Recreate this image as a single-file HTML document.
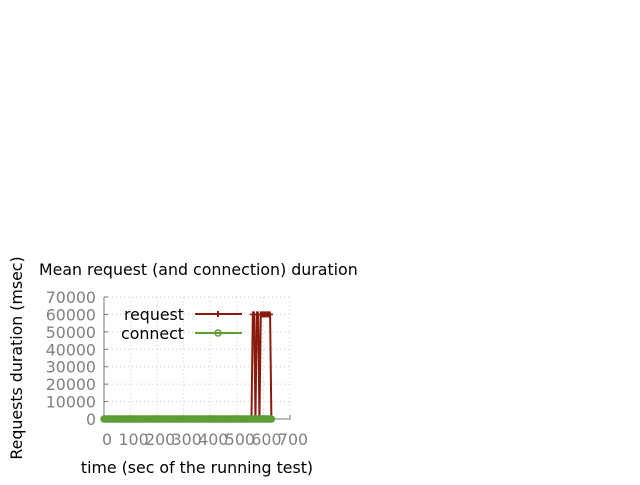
<!DOCTYPE html>
<html><head><meta charset="utf-8"><style>
body{margin:0;background:#fff;width:640px;height:480px;overflow:hidden}
svg text{font-family:"DejaVu Sans","Liberation Sans",sans-serif}
</style></head><body>
<svg id="chart" width="640" height="480" xmlns="http://www.w3.org/2000/svg">
<text x="39" y="275" font-size="15.8" fill="#000">Mean request (and connection) duration</text>
<text transform="translate(22,358) rotate(-90)" text-anchor="middle" font-size="15.8" fill="#000">Requests duration (msec)</text>
<text x="197" y="473" text-anchor="middle" font-size="15.8" fill="#000">time (sec of the running test)</text>
<g id="grid"></g><g id="axes"></g><g id="series"></g><g id="legend"></g>
</svg>
<script>
const xTicks=[0,100,200,300,400,500,600,700];
const yTicks=[0,10000,20000,30000,40000,50000,60000,70000];
const reqTimes=[0,50,100,150,200,250,300,350,400,450,500,550,555,560,565,570,575,580,585,590,595,600,605,610,615,620,625,630];
const reqValues=[0,0,0,0,0,0,0,0,0,0,0,0,0,60000,60000,0,60000,60000,0,60000,60000,60000,60000,60000,60000,60000,60000,0];
const connTimes=[];for(let t=0;t<=630;t+=5)connTimes.push(t);
const connValues=connTimes.map(()=>0);
const X0=104,X1=290,Y0=419,Y1=297;
const sx=v=>X0+(v-0)/(700-0)*(X1-X0);
const sy=v=>Y0-(v/70000)*(Y0-Y1);
const NS="http://www.w3.org/2000/svg";
function mk(tag,attrs,parent){const e=document.createElementNS(NS,tag);for(const k in attrs)e.setAttribute(k,attrs[k]);parent.appendChild(e);return e;}
const grid=document.getElementById('grid'),axes=document.getElementById('axes'),series=document.getElementById('series'),legend=document.getElementById('legend');
xTicks.forEach(t=>{
 const l=mk('line',{x1:sx(t),x2:sx(t),y1:Y1,y2:Y0,stroke:'#ccc','stroke-dasharray':'1,3'},grid);
 
 const k=mk('line',{x1:sx(t),x2:sx(t),y1:Y0,y2:Y0-4,stroke:'#777'},axes);
 
 const tx=mk('text',{x:sx(t)+3,y:445,'text-anchor':'middle','font-size':15.8,fill:'#808080'},axes);tx.textContent=t;
 
});
yTicks.forEach(t=>{
 const l=mk('line',{x1:X0,x2:X1,y1:sy(t),y2:sy(t),stroke:'#ccc','stroke-dasharray':'1,3'},grid);
 
 const k=mk('line',{x1:X0,x2:X0+4,y1:sy(t),y2:sy(t),stroke:'#777'},axes);
 
 const tx=mk('text',{x:96,y:sy(t)+6,'text-anchor':'end','font-size':15.8,fill:'#808080'},axes);tx.textContent=t;
 
});
const ax=mk('path',{d:`M${X0} ${Y1}V${Y0}H${X1}V${Y0-4}`,fill:'none',stroke:'#777'},axes);

const rp=mk('polyline',{points:reqTimes.map((t,i)=>sx(t)+','+sy(reqValues[i])).join(' '),fill:'none',stroke:'#8b1a0e','stroke-width':2},series);

reqTimes.forEach((t,i)=>{const p=mk('path',{d:`M${sx(t)-3} ${sy(reqValues[i])}h6M${sx(t)} ${sy(reqValues[i])-3}v6`,stroke:'#8b1a0e','stroke-width':1.5},series);
 });
const cp=mk('polyline',{points:connTimes.map((t,i)=>sx(t)+','+sy(connValues[i])).join(' '),fill:'none',stroke:'#5e9c36','stroke-width':2},series);

connTimes.forEach((t,i)=>{const c=mk('circle',{cx:sx(t),cy:sy(connValues[i]),r:3.2,fill:'#5e9c36',stroke:'#5e9c36'},series);
 });
const lt1=mk('text',{x:184,y:320,'text-anchor':'end','font-size':15.8,fill:'#000'},legend);lt1.textContent='request';

const ll1=mk('path',{d:'M195 314H242M218 311v6M215 314h6',stroke:'#8b1a0e','stroke-width':2},legend);

const lt2=mk('text',{x:184,y:339,'text-anchor':'end','font-size':15.8,fill:'#000'},legend);lt2.textContent='connect';

const ll2=mk('path',{d:'M195 333H242',stroke:'#5e9c36','stroke-width':2},legend);

const lc=mk('circle',{cx:218,cy:333,r:3,fill:'none',stroke:'#5e9c36','stroke-width':1.5},legend);

</script>
</body></html>
